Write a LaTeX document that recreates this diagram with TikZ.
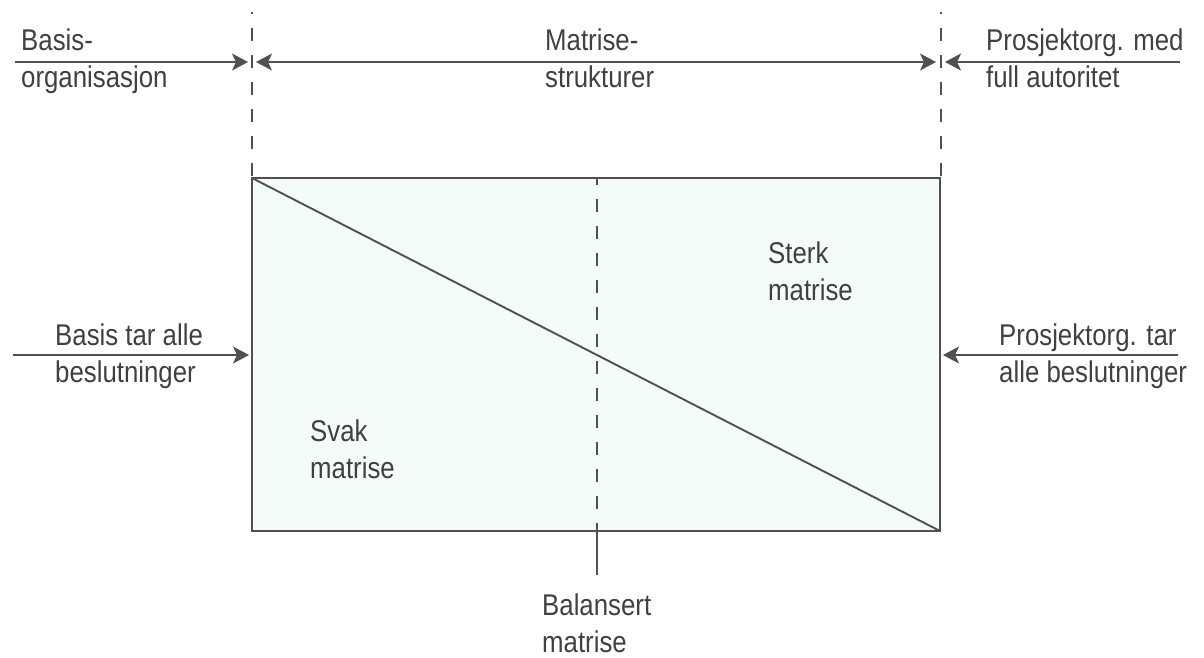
\documentclass[tikz,border=0pt]{standalone}
\usepackage{fontspec}
\setmainfont[FakeStretch=0.86]{Liberation Sans}
\usetikzlibrary{arrows.meta}
\definecolor{ink}{HTML}{505050}
\definecolor{txt}{HTML}{404040}
\definecolor{paleblue}{HTML}{F3FBFB}
\begin{document}
\begin{tikzpicture}[x=1pt,y=-1pt,
  line/.style={draw=ink,line width=1.9pt},
  dashline/.style={draw=ink,line width=1.9pt,dash pattern=on 13pt off 14pt},
  tip/.style={},
  arr/.style={line,-{Stealth[length=16pt,width=17pt,inset=4pt]}},
  darr/.style={line,{Stealth[length=16pt,width=17pt,inset=4pt]}-{Stealth[length=16pt,width=17pt,inset=4pt]}},
  lbl/.style={text=txt,font=\fontsize{30}{37}\selectfont,align=left,inner sep=0pt,anchor=base west}]
\useasboundingbox (0,0) rectangle (1204,657);
% box
\coordinate (tl) at (252,178);
\coordinate (tr) at (940,178);
\coordinate (bl) at (252,531);
\coordinate (br) at (940,531);
\coordinate (mt) at (597,178);
\coordinate (mb) at (597,531);
\coordinate (me) at (597,575);
\fill[paleblue] (tl) rectangle (br);
\draw[line] (tl) rectangle (br);
\draw[line] (tl) -- (br);
\draw[dashline,dash phase=6pt] (mt) -- (mb);
\draw[line] (mb) -- (me);
% dashed limits
\coordinate (ldt) at (252,12);
\coordinate (rdt) at (941,12);
\coordinate (rdb) at (941,178);
\draw[dashline,dash phase=11pt] (ldt) -- (tl);
\draw[dashline,dash phase=11pt] (rdt) -- (rdb);
% top arrows
\coordinate (a1s) at (15,62);
\coordinate (a1e) at (248,62);
\coordinate (a2s) at (256,62);
\coordinate (a2e) at (936,62);
\coordinate (a3s) at (1180,62);
\coordinate (a3e) at (945,62);
\draw[arr] (a1s) -- (a1e);
\draw[darr] (a2s) -- (a2e);
\draw[arr] (a3s) -- (a3e);
% middle arrows
\coordinate (b1s) at (13,355);
\coordinate (b1e) at (249,355);
\coordinate (b2s) at (1178,355);
\coordinate (b2e) at (943,355);
\draw[arr] (b1s) -- (b1e);
\draw[arr] (b2s) -- (b2e);
% labels (anchor = baseline of last line)
\node[lbl] (basis) at (21,87) {Basis-\\organisasjon};
\node[lbl] (matrise) at (545,87) {Matrise-\\strukturer};
\node[lbl] (prosj) at (986,87) {Prosjektorg. med\\full autoritet};
\node[lbl] (basisalle) at (55,382) {Basis tar alle\\beslutninger};
\node[lbl] (prosjalle) at (999,382) {Prosjektorg. tar\\alle beslutninger};
\node[lbl] (sterk) at (768,300) {Sterk\\matrise};
\node[lbl] (svak) at (310,478) {Svak\\matrise};
\node[lbl] (bal) at (542,652) {Balansert\\matrise};
\end{tikzpicture}
\end{document}
